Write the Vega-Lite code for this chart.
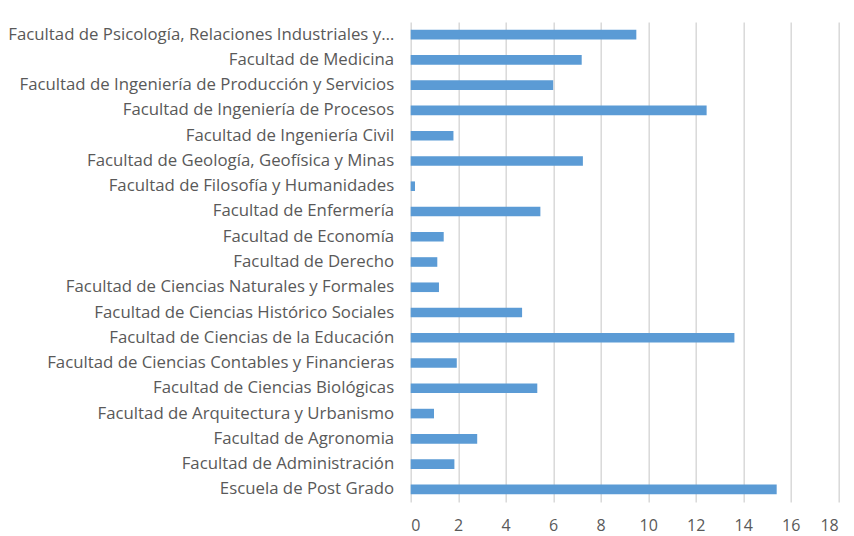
{
  "$schema": "https://vega.github.io/schema/vega-lite/v6.json",
  "width": 427.5,
  "height": 480,
  "autosize": {"type": "none"},
  "padding": {"left": 410.7, "top": 22, "right": 15.8, "bottom": 34},
  "background": "white",
  "data": {
    "values": [
      {"facultad": "Facultad de Psicología, Relaciones Industriales y…", "valor": 9.5, "orden": 1},
      {"facultad": "Facultad de Medicina", "valor": 7.2, "orden": 2},
      {"facultad": "Facultad de Ingeniería de Producción y Servicios", "valor": 6.0, "orden": 3},
      {"facultad": "Facultad de Ingeniería de Procesos", "valor": 12.46, "orden": 4},
      {"facultad": "Facultad de Ingeniería Civil", "valor": 1.8, "orden": 5},
      {"facultad": "Facultad de Geología, Geofísica y Minas", "valor": 7.25, "orden": 6},
      {"facultad": "Facultad de Filosofía y Humanidades", "valor": 0.18, "orden": 7},
      {"facultad": "Facultad de Enfermería\u00a0", "valor": 5.46, "orden": 8},
      {"facultad": "Facultad de Economía", "valor": 1.39, "orden": 9},
      {"facultad": "Facultad de Derecho", "valor": 1.12, "orden": 10},
      {"facultad": "Facultad de Ciencias Naturales y Formales", "valor": 1.19, "orden": 11},
      {"facultad": "Facultad de Ciencias Histórico Sociales", "valor": 4.69, "orden": 12},
      {"facultad": "Facultad de Ciencias de la Educación", "valor": 13.63, "orden": 13},
      {"facultad": "Facultad de Ciencias Contables y Financieras", "valor": 1.94, "orden": 14},
      {"facultad": "Facultad de Ciencias Biológicas", "valor": 5.33, "orden": 15},
      {"facultad": "Facultad de Arquitectura y Urbanismo", "valor": 0.98, "orden": 16},
      {"facultad": "Facultad de Agronomia", "valor": 2.8, "orden": 17},
      {"facultad": "Facultad de Administración", "valor": 1.84, "orden": 18},
      {"facultad": "Escuela de Post Grado", "valor": 15.41, "orden": 19}
    ]
  },
  "mark": {"type": "bar", "color": "#5b9bd5"},
  "encoding": {
    "y": {
      "field": "facultad",
      "type": "nominal",
      "sort": {"field": "orden", "order": "ascending"},
      "scale": {"paddingInner": 0.62, "paddingOuter": 0.31},
      "axis": {
        "title": null,
        "domain": false,
        "ticks": false,
        "labelPadding": 17,
        "labelFont": "Open Sans",
        "labelFontSize": 16.8,
        "labelColor": "#595959",
        "labelLimit": 420
      }
    },
    "x": {
      "field": "valor",
      "type": "quantitative",
      "scale": {"domain": [0, 18], "nice": false},
      "axis": {
        "title": null,
        "values": [0, 2, 4, 6, 8, 10, 12, 14, 16, 18],
        "domain": false,
        "ticks": false,
        "grid": true,
        "gridColor": "#d9d9d9",
        "gridWidth": 1.5,
        "labelPadding": 15,
        "labelFont": "Open Sans",
        "labelFontSize": 16,
        "labelColor": "#595959"
      }
    }
  },
  "config": {"view": {"stroke": null}}
}
